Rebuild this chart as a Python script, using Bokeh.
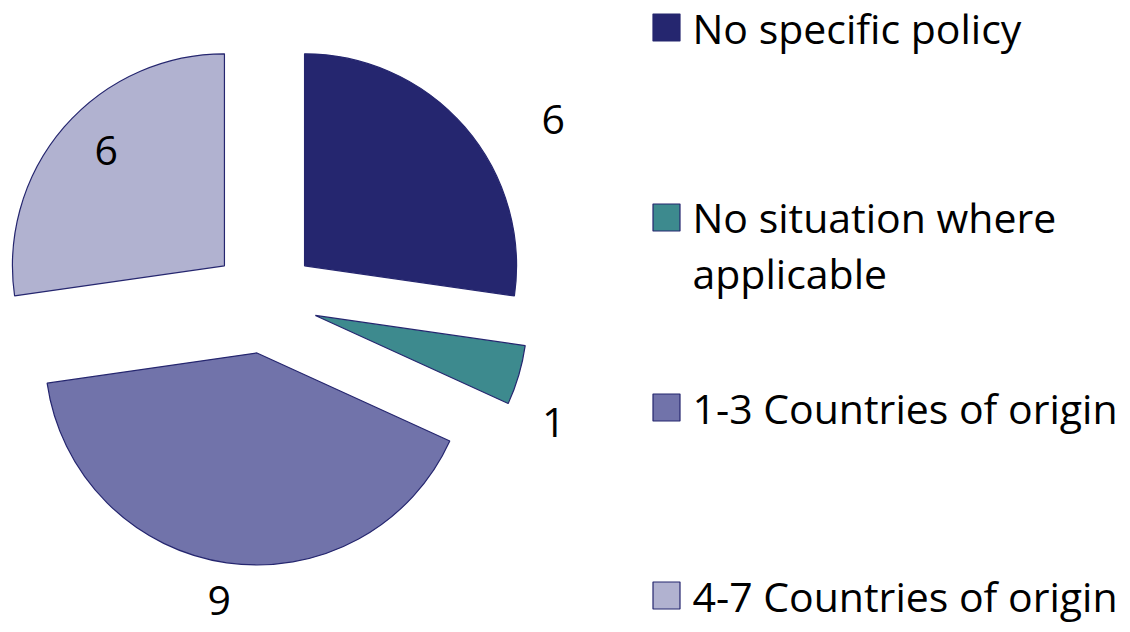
import numpy as np
from bokeh.plotting import figure
from bokeh.models import Range1d, ColumnDataSource
from bokeh.core.properties import value
from bokeh.embed import file_html
from bokeh.resources import INLINE

# ---- data ----
categories = ["No specific policy", "No situation where\napplicable",
              "1-3 Countries of origin", "4-7 Countries of origin"]
counts = [6, 1, 9, 6]
colors = ["#25266f", "#3d8a8e", "#7173aa", "#b1b2d0"]

# ---- layout ----
W, H = 1130, 632
FONT = "Open Sans"
FS = "41px"
cx, cy = 264, H - 300      # pie centre (data px)
R = 212                    # radius
EXPL = 53                  # explode offset
label_dist = [341, 314, 303, 218]
label_tweak = [8.8, 6.5, 0.4, 2.5]
leg_x, leg_text_x = 666, 692
leg_sq_y = [27, 217, 407, 595]
leg_tx_y = [27, 244, 407, 595]

p = figure(width=W, height=H, x_range=Range1d(0, W), y_range=Range1d(0, H),
           output_backend="svg", toolbar_location=None, min_border=0)
p.axis.visible = False
p.grid.visible = False
p.outline_line_color = None
p.background_fill_color = "white"

vals = np.array(counts, dtype=float)
frac = vals / vals.sum() * 360.0
cum = np.concatenate([[0], np.cumsum(frac)])
t1, t2 = cum[:-1], cum[1:]          # clockwise from 12 o'clock
mid = (t1 + t2) / 2
mid_r = np.radians(mid)
xs = cx + EXPL * np.sin(mid_r)
ys = cy + EXPL * np.cos(mid_r)
start = np.radians(90 - t2)
end = np.radians(90 - t1)

src = ColumnDataSource(dict(x=xs, y=ys, start=start, end=end, color=colors))
p.wedge(x="x", y="y", radius=R, start_angle="start", end_angle="end",
        fill_color="color", line_color="#25266f", line_width=1.2, source=src)

# data labels
la = np.radians(mid + np.array(label_tweak))
lx = cx + np.array(label_dist) * np.sin(la)
ly = cy + np.array(label_dist) * np.cos(la)
p.text(x=lx, y=ly, text=[str(c) for c in counts], text_font=value(FONT),
       text_font_size=FS, text_align="center", text_baseline="middle",
       text_color="black")

# legend
p.rect(x=[leg_x] * 4, y=[H - v for v in leg_sq_y], width=27, height=27,
       width_units="screen", height_units="screen", fill_color=colors,
       line_color="#25266f", line_width=1.2)
p.text(x=[leg_text_x] * 4, y=[H - v for v in leg_tx_y], text=categories,
       text_font=value(FONT), text_font_size=FS, text_align="left",
       text_baseline="middle", text_color="black", text_line_height=1.0)

open("out.html", "w").write(file_html(p, INLINE))
